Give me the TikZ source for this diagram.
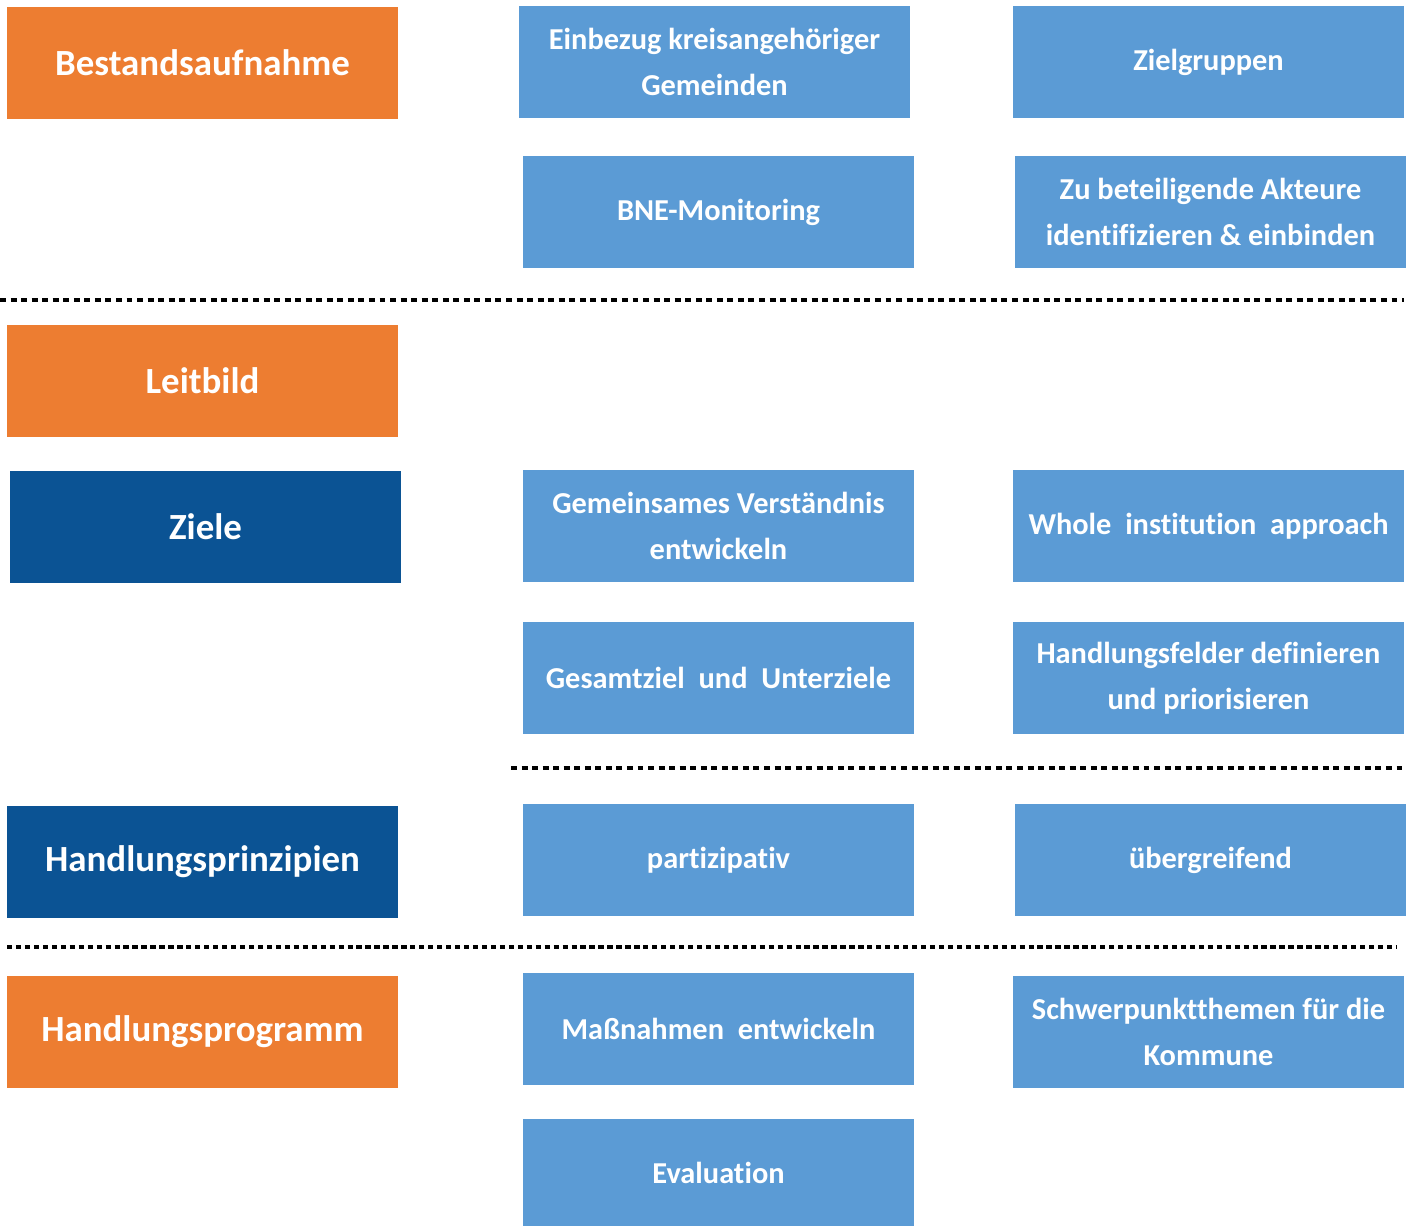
\documentclass[tikz,border=0pt]{standalone}
\usepackage{fontspec}
\setmainfont{Carlito}[Ligatures=NoCommon]
\usepackage{tikz}

\definecolor{stageorange}{HTML}{ED7D31}
\definecolor{stagedark}{HTML}{0B5394}
\definecolor{taskblue}{HTML}{5B9BD5}

\tikzset{
  stage/.style={fill=stageorange, text=white, font=\bfseries\fontsize{21}{26}\selectfont,
    minimum width=7.82cm, minimum height=2.24cm, inner sep=0pt, align=center},
  darkstage/.style={stage, fill=stagedark},
  task/.style={fill=taskblue, text=white, font=\bfseries\fontsize{17.3}{26.2}\selectfont,
    minimum width=7.82cm, minimum height=2.24cm, inner sep=0pt, align=center},
  divider/.style={line width=2.5pt, dash pattern=on 3.4pt off 2.6pt},
  finedivider/.style={line width=2.5pt, dash pattern=on 3pt off 2.1pt}
}

\begin{document}
\begin{tikzpicture}[x=0.02cm, y=-0.02cm]
      \useasboundingbox (0,0) rectangle (1410,1226);

      % linke Spalte
      \node (bestand) at (202.5,63) [stage] {Bestandsaufnahme};

      \node (leitbild) at (202.5,381) [stage] {Leitbild};

      \node (ziele) at (205.5,527) [darkstage] {Ziele};

      \node (prinzipien) at (202.5,862) [darkstage] {Handlungsprinzipien};

      \node (programm) at (202.5,1032) [stage] {Handlungsprogramm};

      % mittlere Spalte
      \node (einbezug) at (714.5,62) [task]
      {Einbezug kreisangehöriger\\Gemeinden};

      \node (monitoring) at (718.5,212) [task]
      {BNE-Monitoring};

      \node (verstaendnis) at (718.5,526) [task]
      {Gemeinsames Verständnis\\entwickeln};

      \node (gesamtziel) at (718.5,678) [task]
      {Gesamtziel~ und~ Unterziele};

      \node (partizipativ) at (718.5,860) [task]
      {partizipativ};

      \node (massnahmen) at (718.5,1029) [task]
      {Maßnahmen~ entwickeln};

      \node (evaluation) at (718.5,1172.5) [task, minimum height=2.14cm]
      {Evaluation};

      % rechte Spalte
      \node (zielgruppen) at (1208.5,62) [task]
      {Zielgruppen};

      \node (akteure) at (1210.5,212) [task]
      {Zu beteiligende Akteure\\identifizieren \& einbinden};

      \node (whole) at (1208.5,526) [task]
      {Whole~ institution~ approach};

      \node (felder) at (1208.5,678) [task]
      {Handlungsfelder definieren\\und priorisieren};

      \node (uebergreifend) at (1210.5,860) [task]
      {übergreifend};

      \node (schwerpunkt) at (1208.5,1032) [task]
      {Schwerpunktthemen für die\\Kommune};

      % Trennlinien
      \coordinate (cutA) at (0,300);
      \coordinate (cutB) at (1404,300);
      \coordinate (cutC) at (511,768);
      \coordinate (cutD) at (1404,768);
      \coordinate (cutE) at (7,947);
      \coordinate (cutF) at (1396,947);

      \draw[divider] (cutA) -- (cutB);

      \draw[divider] (cutC) -- (cutD);

      \draw[finedivider] (cutE) -- (cutF);
    \end{tikzpicture}
\end{document}
